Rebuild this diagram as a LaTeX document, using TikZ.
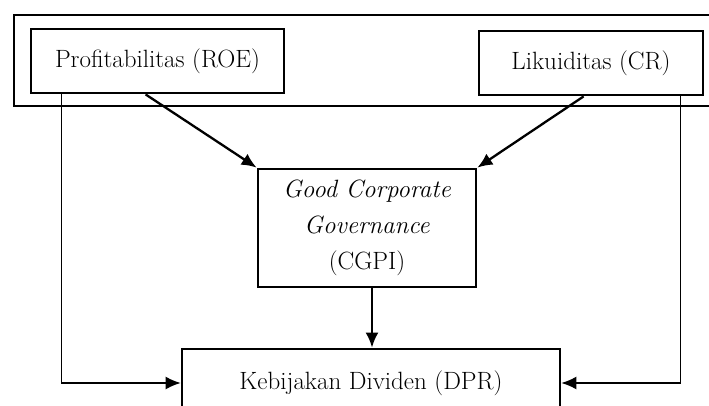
\documentclass[tikz,border=0pt]{standalone}
\usetikzlibrary{arrows.meta,calc}
\begin{document}
\begin{tikzpicture}[x=1pt,y=-1pt,
  box/.style={draw,line width=2.8pt,rectangle,inner sep=0pt,align=center,font=\fontsize{25}{36}\selectfont},
  arr/.style={line width=2.3pt,-{Latex[length=15pt,width=13pt]}},
  side/.style={line width=1.5pt,-{Latex[length=15pt,width=13pt]}}]
\useasboundingbox (0,0) rectangle (709,406);
\clip (0,0) rectangle (709,406);
\draw[line width=2pt] (14,15) rectangle (730,106);
\node[box,minimum width=253pt,minimum height=64pt] (roe) at (157.5,61) {Profitabilitas (ROE)};
\node[box,minimum width=224pt,minimum height=64pt] (cr) at (591,63) {Likuiditas (CR)};
\node[box,minimum width=218pt,minimum height=118pt] (gcg) at (367,228) {\textit{Good Corporate}\\\textit{Governance}\\(CGPI)};
\node[box,minimum width=378pt,minimum height=68pt] (dpr) at (371,383) {Kebijakan Dividen (DPR)};
\coordinate (roeL) at ($(roe.south west)+(32,0)$);
\coordinate (crR) at ($(cr.south east)+(-24,0)$);
\coordinate (roeD) at ($(roe.south west)+(116,0)$);
\coordinate (crD) at ($(cr.south west)+(106,0)$);
\draw[side] (roeL) |- (dpr.west);
\draw[side] (crR) |- (dpr.east);
\draw[arr] (roeD) -- (gcg.north west);
\draw[arr] (crD) -- (gcg.north east);
\draw[arr] ($(gcg.south)+(5,0)$) -- ($(dpr.north)+(1,0)$);
\end{tikzpicture}
\end{document}
